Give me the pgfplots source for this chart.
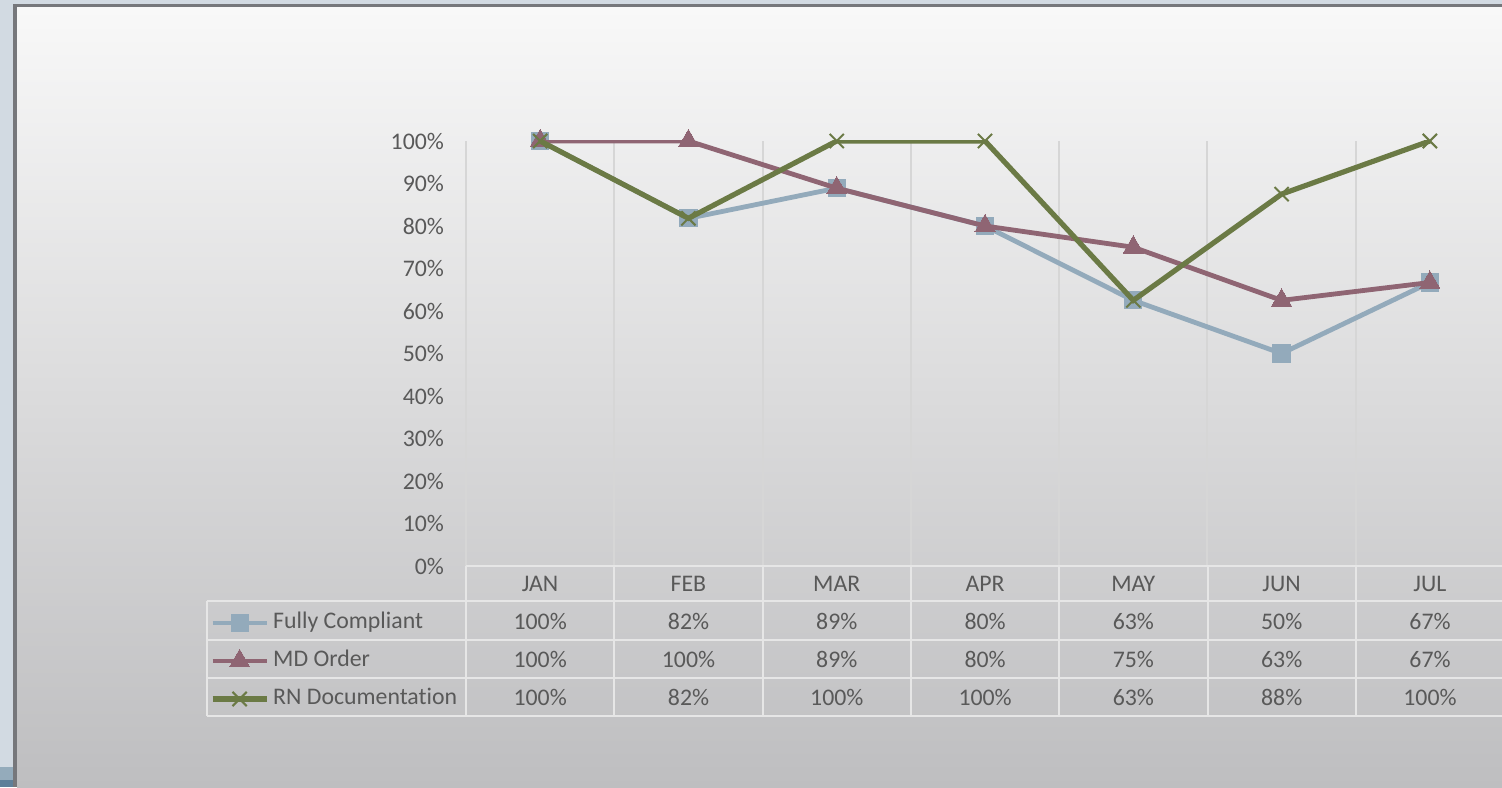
\documentclass[border=0pt]{standalone}
\usepackage{pgfplots}
\pgfplotsset{compat=1.18}
\usepackage{pgfplotstable}
\usepackage{fontspec}
\setmainfont{Carlito}[Ligatures=NoCommon]
\definecolor{fc}{HTML}{93AABB}
\definecolor{md}{HTML}{8F6573}
\definecolor{rn}{HTML}{6B7A45}
\definecolor{txt}{HTML}{595959}
\definecolor{gridc}{HTML}{D6D6D6}
\definecolor{tbl}{HTML}{E6E6E6}
\definecolor{outerc}{HTML}{D2DAE2}
\definecolor{framec}{HTML}{76777B}
\definecolor{bgtop}{HTML}{F8F8F8}
\definecolor{bgbot}{HTML}{BEBEC0}
\definecolor{strip1}{HTML}{94ABBB}
\definecolor{strip2}{HTML}{5E7F99}

\pgfplotstableread{
x fc md rn
0 100 100 100
1 81.8 100 81.8
2 88.9 88.9 100
3 80 80 100
4 62.5 75 62.5
5 50 62.5 87.5
6 66.7 66.7 100
}\data

\newcommand\tf{\fontsize{11.9}{14}\selectfont}

\begin{document}
\begin{tikzpicture}
\useasboundingbox (0,0) rectangle (751pt,393.5pt);
\begin{scope}[x=0.5pt,y=-0.5pt,shift={(0pt,393.5pt)}]
\fill[outerc] (0,0) rectangle (1502,787);
\fill[framec] (13,4) rectangle (1502,787);
\shade[top color=bgtop, bottom color=bgbot] (17,8) rectangle (1502,787);
\fill[strip1] (0,767) rectangle (13,780);
\fill[strip2] (0,780) rectangle (13,787);
\end{scope}

\begin{axis}[
  at={(233pt,110.5pt)}, anchor=south west,
  scale only axis, width=519pt, height=212.5pt,
  xmin=-0.5, xmax=6.5, ymin=0, ymax=100,
  xtick={0,...,6},
  xticklabels={JAN,FEB,MAR,APR,MAY,JUN,JUL},
  xticklabel style={anchor=center, yshift=-9pt},
  minor xtick={-0.5,0.5,...,6.5},
  xminorgrids, minor x grid style={gridc, line width=1pt},
  ytick={0,10,...,100},
  yticklabel={\pgfmathprintnumber[assume math mode=true]{\tick}\%},
  yticklabel style={anchor=east, xshift=-7.5pt},
  axis line style={draw=none},
  major tick length=0pt, minor tick length=0pt,
  tick style={draw=none},
  ticklabel style={font=\tf, text=txt},
  clip mode=individual,
  legend style={draw=none, fill=none, inner sep=0pt, outer sep=0pt,
    at={(-0.2466,-0.0894)}, anchor=north west,
    row sep=0pt, column sep=2pt,
    nodes={inner sep=0pt, text height=8pt, text depth=2pt, minimum height=19pt, font=\tf, text=txt}},
  legend cell align=left,
  legend image code/.code={\draw[mark repeat=2,mark phase=2] plot coordinates {(0pt,0pt) (13.5pt,0pt) (27pt,0pt)};},
]
\addplot[fc, line width=2.4pt, mark=square*, mark size=4.3pt, mark options={solid, line width=0pt, fill=fc, draw=fc}] table[x=x, y=fc] {\data};
\addlegendentry{Fully Compliant}
\addplot[md, line width=2.4pt, mark=triangle*, mark size=5.8pt, mark options={solid, line width=0pt, fill=md, draw=md}] table[x=x, y=md] {\data};
\addlegendentry{MD Order}
\addplot[rn, line width=2.6pt, mark=x, mark size=5pt, mark options={solid, line width=1pt, draw=rn}] table[x=x, y=rn] {\data};
\addlegendentry{RN Documentation}
\end{axis}

\begin{scope}[x=0.5pt,y=-0.5pt,shift={(0pt,393.5pt)}]
% data table grid
\begin{scope}[tbl, line width=1pt]
\draw (466,566) -- (1502,566);
\foreach \yy in {601,640,678,716} \draw (207,\yy) -- (1502,\yy);
\draw (207,601) -- (207,716);
\foreach \k in {0,...,7} \draw ({466+148.3*\k},566) -- ({466+148.3*\k},716);
\end{scope}
% data table values
\begin{scope}[every node/.style={font=\tf, text=txt, inner sep=0pt}]
\foreach \v [count=\i from 0] in {100,82,89,80,63,50,67}
  \node at ({540.2+148.3*\i},621) {\v\%};
\foreach \v [count=\i from 0] in {100,100,89,80,75,63,67}
  \node at ({540.2+148.3*\i},659) {\v\%};
\foreach \v [count=\i from 0] in {100,82,100,100,63,88,100}
  \node at ({540.2+148.3*\i},697) {\v\%};
\end{scope}
\end{scope}
\end{tikzpicture}
\end{document}
